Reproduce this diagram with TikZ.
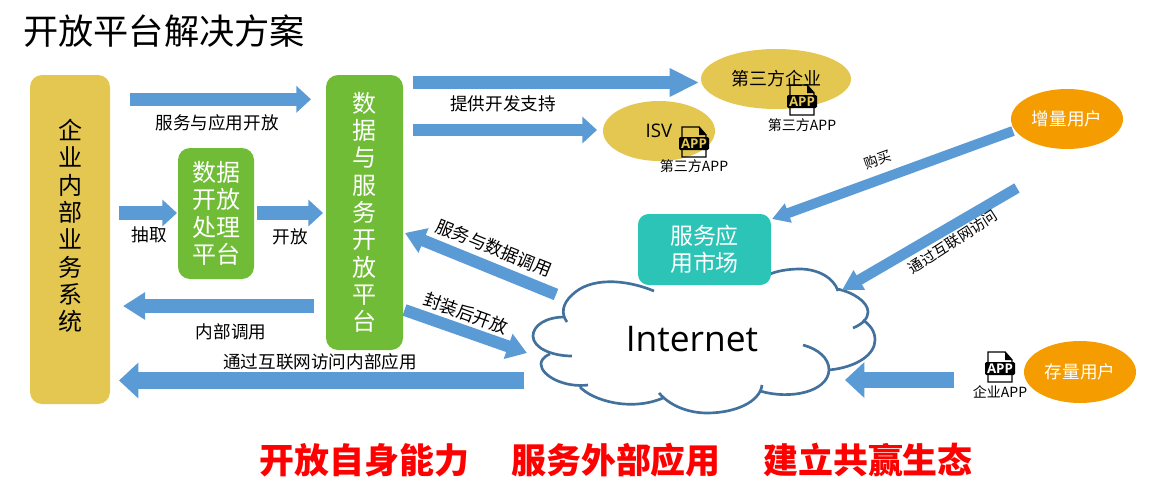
\documentclass[tikz,border=0pt]{standalone}
\usepackage{fontspec}
\setmainfont{Noto Sans CJK SC}
\newfontfamily\latinfont{Open Sans}
\usetikzlibrary{arrows.meta,shapes.geometric}
\definecolor{goldfill}{HTML}{E4C751}
\definecolor{greenfill}{HTML}{70BC36}
\definecolor{tealfill}{HTML}{2BC4B6}
\definecolor{orangefill}{HTML}{F59D00}
\definecolor{arrowblue}{HTML}{5B9BD5}
\definecolor{cloudblue}{HTML}{41719C}
\tikzset{
  panelbox/.style={rectangle,rounded corners=9pt,inner sep=0pt,align=center,text=white,
    font=\fontsize{18}{20.5}\selectfont},
  oval/.style={ellipse,inner sep=0pt,text=white,font=\fontsize{13.2}{15}\selectfont},
  smalltext/.style={inner sep=0pt,font=\fontsize{13.2}{15}\selectfont},
  apptext/.style={inner sep=0pt,font=\fontsize{10.5}{12}\selectfont},
  slogan/.style={inner sep=0pt,text=red,font=\fontsize{26.2}{30}\selectfont\bfseries},
  thinarrow/.style={draw=arrowblue,line width=10pt,-{Triangle[length=11pt,width=19.5pt]}},
  longarrow/.style={draw=arrowblue,line width=10pt,-{Triangle[length=22pt,width=20pt]}},
  slantarrow/.style={draw=arrowblue,line width=9pt,-{Triangle[length=15pt,width=19pt]}},
  fatarrow/.style={draw=arrowblue,line width=12.5pt,-{Triangle[length=14.5pt,width=26pt]}},
  cloudline/.style={draw=cloudblue,line width=2pt},
  appicon/.pic={
    \draw[line width=1.1pt] (-12,-15) -- (5,-15) -- (12,-7) -- (12,15) -- (-12,15) -- cycle;
    \fill (5,-15) -- (12,-7) -- (5,-7) -- cycle;
    \fill[rounded corners=1pt] (-15,-5) rectangle (15,8);
    \node[inner sep=0pt,text=\tikzpictext] (-app) at (0,1.5) {\latinfont\fontsize{10}{10}\selectfont\bfseries APP};
  }
}
\begin{document}
\begin{tikzpicture}[x=0.75pt,y=-0.75pt]
\useasboundingbox (0,0) rectangle (1156,489);
% title
\node[inner sep=0pt,font=\fontsize{26.4}{30}\selectfont] (title) at (164,31) {开放平台解决方案};
% boxes
\node[panelbox,fill=goldfill,minimum width=60pt,minimum height=246.75pt] (bizsys) at (70,239.5) {};
\node[inner sep=0pt,align=center,font=\fontsize{18}{20.5}\selectfont] (bizlbl) at (70,226) {企\\业\\内\\部\\业\\务\\系\\统};
\node[panelbox,fill=greenfill,minimum width=57pt,minimum height=98.25pt] (dataplat) at (216,213.5) {数据\\开放\\处理\\平台};
\node[panelbox,fill=greenfill,minimum width=57.75pt,minimum height=206.25pt] (openplat) at (364.5,212.5) {数\\据\\与\\服\\务\\开\\放\\平\\台};
% ovals
\node[oval,fill=goldfill,text=black,minimum width=112.5pt,minimum height=45pt,font=\fontsize{13.5}{16}\selectfont] (firm) at (776,79) {第三方企业};
\node[oval,fill=goldfill,text=black,minimum width=84pt,minimum height=45pt] (isv) at (659,131) {\latinfont\fontsize{14}{16}\selectfont ISV};
\node[oval,fill=orangefill,minimum width=84pt,minimum height=45pt] (newuser) at (1067,119) {增量用户};
\node[oval,fill=orangefill,minimum width=84pt,minimum height=46.5pt] (olduser) at (1080,372) {存量用户};
% cloud
\draw[cloudline] (654,291) .. controls (625,279) and (590,277) .. (572,295) .. controls (562,304) and (561,314) .. (567,322);
\draw[cloudline] (565,317) .. controls (545,317) and (533,326) .. (533,336) .. controls (533,348) and (552,356) .. (572,356);
\draw[cloudline] (550,354) .. controls (543,357) and (541,361) .. (541,364) .. controls (541,376) and (565,388) .. (588,385);
\draw[cloudline] (580,387) .. controls (592,400) and (630,412) .. (663,398);
\draw[cloudline] (659,393) .. controls (672,408) and (692,413) .. (707,413) .. controls (735,413) and (760,402) .. (762,385);
\draw[cloudline] (760,391) .. controls (790,400) and (828,392) .. (829,370);
\draw[cloudline] (803,345) .. controls (818,349) and (829,358) .. (829,370);
\draw[cloudline] (829,370) .. controls (858,367) and (875,354) .. (875,340) .. controls (875,331) and (870,325) .. (863,320);
\draw[cloudline] (853,328) .. controls (863,324) and (868,318) .. (868,312) .. controls (868,302) and (853,292) .. (837,289);
\draw[cloudline] (838,291) .. controls (834,278) and (818,269) .. (800,269) .. controls (788,269) and (776,271) .. (768,275);
\node[inner sep=0pt,font=\latinfont\fontsize{26.5}{30}\selectfont] (net) at (692,339) {Internet};
\node[panelbox,fill=tealfill,minimum width=99.75pt,minimum height=53.25pt,rounded corners=8pt,font=\fontsize{17.2}{20}\selectfont] (market) at (704.5,249.5) {服务应\\用市场};
% arrow ends
\coordinate (a1s) at (130,99.3);   \coordinate (a1e) at (311,99.3);
\coordinate (a2s) at (119,213);  \coordinate (a2e) at (177,213);
\coordinate (a3s) at (257,213);  \coordinate (a3e) at (323,213);
\coordinate (a4s) at (413,82.5);   \coordinate (a4e) at (699,82.5);
\coordinate (a5s) at (413,130);  \coordinate (a5e) at (597,130);
\coordinate (a6s) at (314,306);  \coordinate (a6e) at (123,306);
\coordinate (a7s) at (524,380.5);  \coordinate (a7e) at (119,380.5);
\coordinate (a8s) at (556,294.5);  \coordinate (a8e) at (405,233);
\coordinate (a9s) at (404.5,310);  \coordinate (a9e) at (527,353);
\coordinate (a10s) at (1013,131); \coordinate (a10e) at (772,219);
\coordinate (a11s) at (1017,188); \coordinate (a11e) at (842,290);
\coordinate (a12s) at (954,380); \coordinate (a12e) at (845,380);
% arrows
\draw[thinarrow] (a1s) -- (a1e);
\draw[thinarrow] (a2s) -- (a2e);
\draw[thinarrow] (a3s) -- (a3e);
\draw[longarrow] (a4s) -- (a4e);
\draw[thinarrow,line width=8.5pt] (a5s) -- (a5e);
\draw[thinarrow,-{Triangle[length=16.5pt,width=19.5pt]}] (a6s) -- (a6e);
\draw[fatarrow] (a7s) -- (a7e);
\draw[slantarrow] (a8s) -- (a8e);
\draw[slantarrow] (a9s) -- (a9e);
\draw[slantarrow,line width=7.5pt,-{Triangle[length=13pt,width=14.5pt]}] (a10s) -- (a10e);
\draw[slantarrow,line width=8pt,-{Triangle[length=15pt,width=16pt]}] (a11s) -- (a11e);
\draw[fatarrow] (a12s) -- (a12e);
% labels
\node[smalltext] (openlbl) at (217,123) {服务与应用开放};
\node[smalltext] (extract) at (149,235) {抽取};
\node[smalltext] (openone) at (290,237) {开放};
\node[smalltext] (devlbl) at (503,104) {提供开发支持};
\node[smalltext] (innercall) at (231,332) {内部调用};
\node[smalltext] (innerapp) at (320,362) {通过互联网访问内部应用};
\node[smalltext,rotate=-22] (calllbl) at (494,248) {服务与数据调用};
\node[smalltext,rotate=-20] (wraplbl) at (466,313) {封装后开放};
\node[apptext,rotate=20] (buylbl) at (878,160) {购买};
\node[apptext,rotate=33,font=\fontsize{11}{12}\selectfont] (netlbl) at (953,242) {通过互联网访问};
% app icons
\pic[pic text=goldfill] (icona) at (802,100) {appicon};
\pic[pic text=goldfill] (iconb) at (694,142) {appicon};
\pic[pic text=white] (iconc) at (1000,367) {appicon};
\node[apptext] (appa) at (802,125) {第三方APP};
\node[apptext] (appb) at (694,166) {第三方APP};
\node[apptext] (appc) at (1000,392) {企业APP};
% slogans
\node[slogan] (sloga) at (364.5,460) {开放自身能力};
\node[slogan] (slogb) at (616,460) {服务外部应用};
\node[slogan] (slogc) at (868,460) {建立共赢生态};
\end{tikzpicture}
\end{document}
